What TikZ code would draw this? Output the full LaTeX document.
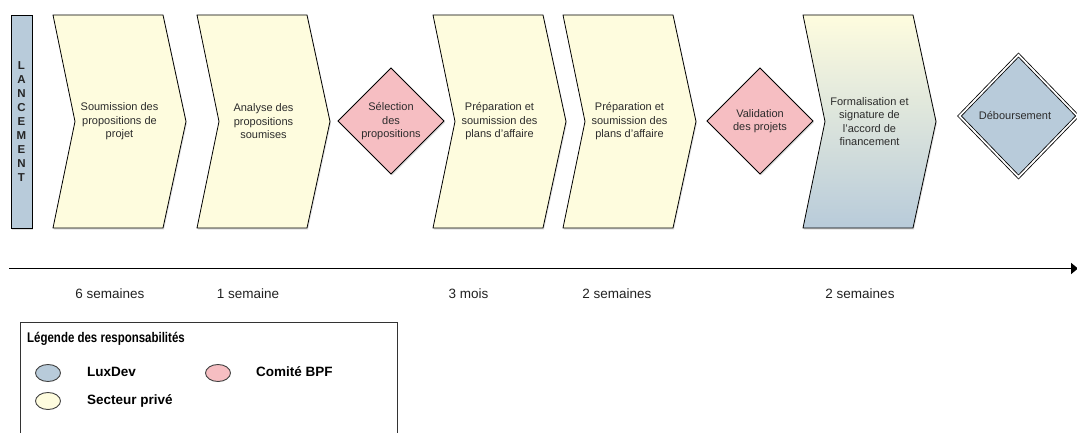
\documentclass[tikz,border=0pt]{standalone}
\usepackage{fontspec}
\setmainfont{Liberation Sans}
\newfontfamily\legfont{Liberation Sans}[FakeStretch=0.82]
\usetikzlibrary{shadows,arrows.meta,shapes.geometric}
\definecolor{cream}{HTML}{FEFCDE}
\definecolor{rose}{HTML}{F6BEC2}
\definecolor{steel}{HTML}{B8CBDA}
\definecolor{txt}{HTML}{2C2C2C}
\definecolor{timetxt}{HTML}{222222}
\tikzset{
  shapeline/.style={draw=black, line width=0.8pt, line join=miter},
  shad/.style={drop shadow={opacity=0.25, shadow xshift=1pt, shadow yshift=-1.5pt}},
  stepfill/.style={shapeline, shad, fill=cream},
  gradfill/.style={shapeline, shad, top color=cream, bottom color=steel},
  decfill/.style={shapeline, shad, fill=rose},
  steptext/.style={font=\fontsize{11}{13.5}\selectfont, text=txt, align=center, inner sep=0pt},
  timetext/.style={font=\fontsize{13.5}{16}\selectfont, text=timetxt, inner sep=0pt},
  legell/.style={ellipse, draw=black!75, line width=0.9pt, minimum width=25pt, minimum height=17pt, inner sep=0pt},
  legtext/.style={font=\bfseries\fontsize{13.5}{16}\selectfont, text=black, anchor=base west, inner sep=0pt},
}
\newcommand{\chevpath}[2]{\path[#2] (#1,15) -- ++(110,0) -- ++(23,106.5) -- ++(-23,106.5) -- ++(-110,0) -- ++(22,-106.5) -- cycle;}
\begin{document}
\begin{tikzpicture}[x=1pt,y=-1pt]
\useasboundingbox (0,0) rectangle (1077,433);
\fill[white] (0,0) rectangle (1077,433);

% launch bar
\path[shapeline, shad, fill=steel] (11,15) rectangle (32,228);
\node[font=\bfseries\fontsize{11.5}{14.1}\selectfont, text=black!85, align=center, inner sep=0pt] (launch) at (21.5,121.5) {L\\A\\N\\C\\E\\M\\E\\N\\T};

% chevrons
\chevpath{53}{stepfill}
\node[steptext] (c1) at (119.5,121.5) {Soumission des\\propositions de\\projet};
\chevpath{197}{stepfill}
\node[steptext] (c2) at (263.5,121.5) {Analyse des\\propositions\\soumises};
\chevpath{433}{stepfill}
\node[steptext] (c3) at (499.5,121.5) {Préparation et\\soumission des\\plans d’affaire};
\chevpath{563}{stepfill}
\node[steptext] (c4) at (629.5,121.5) {Préparation et\\soumission des\\plans d’affaire};
\chevpath{803}{gradfill}
\node[steptext] (c5) at (869.5,121.5) {Formalisation et\\signature de\\l’accord de\\financement};

% decisions
\path[decfill] (338,121) -- (391,68) -- (444,121) -- (391,174) -- cycle;
\node[steptext] (d1) at (391,121.5) {Sélection\\des\\propositions};
\path[decfill] (707,121) -- (760,68) -- (813,121) -- (760,174) -- cycle;
\node[steptext] (d2) at (760,121) {Validation\\des projets};
\path[draw=black, line width=0.8pt, double=white, double distance=1.8pt, fill=steel, shad] (959.5,116) -- (1018.5,55) -- (1077.5,116) -- (1018.5,177) -- cycle;
\node[steptext] (d3) at (1015,116) {Déboursement};

% time axis
\coordinate (a0) at (9,268.5);
\coordinate (a1) at (1078,268.5);
\draw[line width=1.8pt, -{Triangle[length=7pt,width=11pt]}] (a0) -- (a1);

\node[timetext] (t1) at (110,294) {6 semaines};
\node[timetext] (t2) at (248,294) {1 semaine};
\node[timetext] (t3) at (468.5,294) {3 mois};
\node[timetext] (t4) at (617,294) {2 semaines};
\node[timetext] (t5) at (860,294) {2 semaines};

% legend
\draw[line width=0.8pt, draw=black!80] (20.5,322.5) rectangle (397,445);
\node[anchor=base west, inner sep=0pt, font=\legfont\bfseries\fontsize{14}{16}\selectfont] (lt) at (27,342) {Légende des responsabilités};
\node[legell, fill=steel] (e1) at (48,373) {};
\node[legtext] (l1) at (87,376.5) {LuxDev};
\node[legell, fill=rose] (e2) at (218,373) {};
\node[legtext] (l2) at (256,376.5) {Comité BPF};
\node[legell, fill=cream] (e3) at (48,401) {};
\node[legtext] (l3) at (87,404.5) {Secteur privé};
\end{tikzpicture}
\end{document}
